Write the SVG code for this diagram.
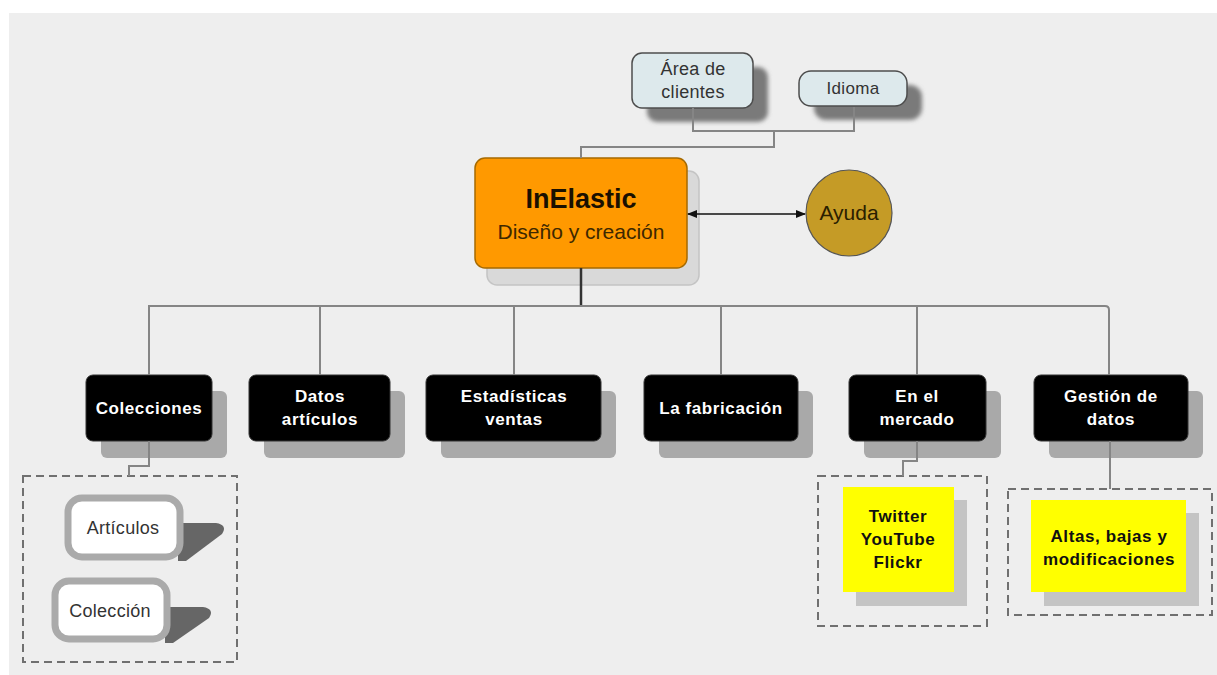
<svg xmlns="http://www.w3.org/2000/svg" width="1217" height="675" viewBox="0 0 1217 675">
<defs>
<style>
.conn{fill:none;stroke:#858585;stroke-width:2}
.dash{fill:none;stroke:#707070;stroke-width:2;stroke-dasharray:8 5}
.blk{fill:#000;stroke:#333;stroke-width:1}
.bsh{fill:#a9a9a9}
.wt{font-family:"Liberation Sans",Arial,sans-serif;font-weight:bold;font-size:17px;letter-spacing:0.6px;fill:#fff;text-anchor:middle}
.dt{font-family:"Liberation Sans",Arial,sans-serif;font-size:18px;letter-spacing:0.3px;fill:#333;text-anchor:middle}
.yt{font-family:"Liberation Sans",Arial,sans-serif;font-weight:bold;font-size:17px;letter-spacing:0.6px;fill:#111;text-anchor:middle}
.top{fill:#dde9ec;stroke:#4d4d4d;stroke-width:1.5}
.tsh{fill:#7a7a7a;filter:url(#blur)}
.yel{fill:#ffff00}
.ysh{fill:#c4c4c4}
.pill{fill:#fff;stroke:#aaaaaa;stroke-width:7}
.psh{fill:#666}
</style>
<filter id="blur" x="-20%" y="-20%" width="140%" height="140%"><feGaussianBlur stdDeviation="2"/></filter>
<marker id="ah" viewBox="0 0 10 10" refX="9" refY="5" markerWidth="7" markerHeight="7" orient="auto-start-reverse"><path d="M0,1 L10,5 L0,9 z" fill="#111"/></marker>
</defs>
<rect x="9" y="13" width="1208" height="662" fill="#eeeeee"/>

<g id="area-clientes">
<rect class="tsh" x="647" y="67" width="121" height="55" rx="10"/>
<rect class="top" x="632" y="53" width="121" height="55" rx="10"/>
<text class="dt" x="693" y="75">Área de</text>
<text class="dt" x="693" y="98">clientes</text>
</g>
<g id="idioma">
<rect class="tsh" x="814" y="85" width="108" height="35" rx="12"/>
<rect class="top" x="799" y="71" width="108" height="35" rx="12"/>
<text class="dt" x="853" y="94" style="font-size:17px">Idioma</text>
</g>

<g id="inelastic">
<rect x="487" y="171" width="212" height="114" rx="10" fill="#d9d9d9" stroke="#c4c4c4" stroke-width="1.5"/>
<rect x="475" y="158" width="212" height="110" rx="10" fill="#ff9900" stroke="#a66a00" stroke-width="1.5"/>
<text x="581" y="208" font-family="Liberation Sans,Arial,sans-serif" font-weight="bold" font-size="27" fill="#1a1000" text-anchor="middle">InElastic</text>
<text x="581" y="239" font-family="Liberation Sans,Arial,sans-serif" font-size="21" fill="#3d2800" text-anchor="middle">Diseño y creación</text>
</g>

<g id="ayuda">
<circle cx="849" cy="213" r="43" fill="#c59b26" stroke="#555" stroke-width="1.2"/>
<text x="849" y="220" font-family="Liberation Sans,Arial,sans-serif" font-size="21" fill="#2a2000" text-anchor="middle">Ayuda</text>
</g>

<g id="colecciones">
<rect class="bsh" x="101" y="391" width="126" height="67" rx="6"/>
<rect class="blk" x="86" y="375" width="126" height="66" rx="7"/>
<text class="wt" x="149" y="414">Colecciones</text>
</g>
<g id="datos-articulos">
<rect class="bsh" x="264" y="391" width="141" height="67" rx="6"/>
<rect class="blk" x="249" y="375" width="141" height="66" rx="7"/>
<text class="wt" x="320" y="402">Datos</text>
<text class="wt" x="320" y="425">artículos</text>
</g>
<g id="estadisticas-ventas">
<rect class="bsh" x="441" y="391" width="175" height="67" rx="6"/>
<rect class="blk" x="426" y="375" width="175" height="66" rx="7"/>
<text class="wt" x="514" y="402">Estadísticas</text>
<text class="wt" x="514" y="425">ventas</text>
</g>
<g id="la-fabricacion">
<rect class="bsh" x="659" y="391" width="154" height="67" rx="6"/>
<rect class="blk" x="644" y="375" width="154" height="66" rx="7"/>
<text class="wt" x="721" y="414">La fabricación</text>
</g>
<g id="en-el-mercado">
<rect class="bsh" x="864" y="391" width="137" height="67" rx="6"/>
<rect class="blk" x="849" y="375" width="137" height="66" rx="7"/>
<text class="wt" x="917" y="402">En el</text>
<text class="wt" x="917" y="425">mercado</text>
</g>
<g id="gestion-datos">
<rect class="bsh" x="1049" y="391" width="154" height="67" rx="6"/>
<rect class="blk" x="1034" y="375" width="154" height="66" rx="7"/>
<text class="wt" x="1111" y="402">Gestión de</text>
<text class="wt" x="1111" y="425">datos</text>
</g>

<g id="grupo-colecciones">
<rect class="dash" x="23" y="476" width="214" height="186"/>
</g>
<g id="articulos">
<path class="psh" d="M178,523 H216 Q228,525 222,534 L186,561 H178 Z"/>
<rect class="pill" x="68" y="498" width="112" height="59" rx="14"/>
<text class="dt" x="123" y="534">Artículos</text>
</g>
<g id="coleccion">
<path class="psh" d="M165,607 H203 Q215,609 209,618 L173,643 H165 Z"/>
<rect class="pill" x="55" y="581" width="112" height="58" rx="14"/>
<text class="dt" x="110" y="617">Colección</text>
</g>

<g id="grupo-mercado">
<rect class="dash" x="818" y="476" width="169" height="150"/>
</g>
<g id="redes">
<rect class="ysh" x="856" y="500" width="111" height="106"/>
<rect class="yel" x="843" y="487" width="111" height="105"/>
<text class="yt" x="898" y="522">Twitter</text>
<text class="yt" x="898" y="545">YouTube</text>
<text class="yt" x="898" y="568">Flickr</text>
</g>

<g id="grupo-gestion">
<rect class="dash" x="1008" y="489" width="204" height="126"/>
</g>
<g id="altas">
<rect class="ysh" x="1044" y="513" width="155" height="93"/>
<rect class="yel" x="1031" y="500" width="155" height="92"/>
<text class="yt" x="1109" y="542">Altas, bajas y</text>
<text class="yt" x="1109" y="565">modificaciones</text>
</g>

<g id="connectors">
<polyline class="conn" points="693,108 693,131 854,131 854,107"/>
<polyline class="conn" points="774,131 774,147 581,147 581,158"/>
<line x1="581" y1="268" x2="581" y2="306" stroke="#333" stroke-width="2.5"/>
<path class="conn" d="M149,375 V306 H1105 Q1109,306 1109,310 V375"/>
<line class="conn" x1="320" y1="306" x2="320" y2="375"/>
<line class="conn" x1="514" y1="306" x2="514" y2="375"/>
<line class="conn" x1="721" y1="306" x2="721" y2="375"/>
<line class="conn" x1="917" y1="306" x2="917" y2="375"/>
<polyline class="conn" points="149,441 149,466 129,466 129,476"/>
<polyline class="conn" points="917,441 917,461 903,461 903,476"/>
<line class="conn" x1="1110" y1="441" x2="1110" y2="489"/>
<line x1="688" y1="214" x2="805" y2="214" stroke="#111" stroke-width="1.5" marker-start="url(#ah)" marker-end="url(#ah)"/>
</g>
</svg>
